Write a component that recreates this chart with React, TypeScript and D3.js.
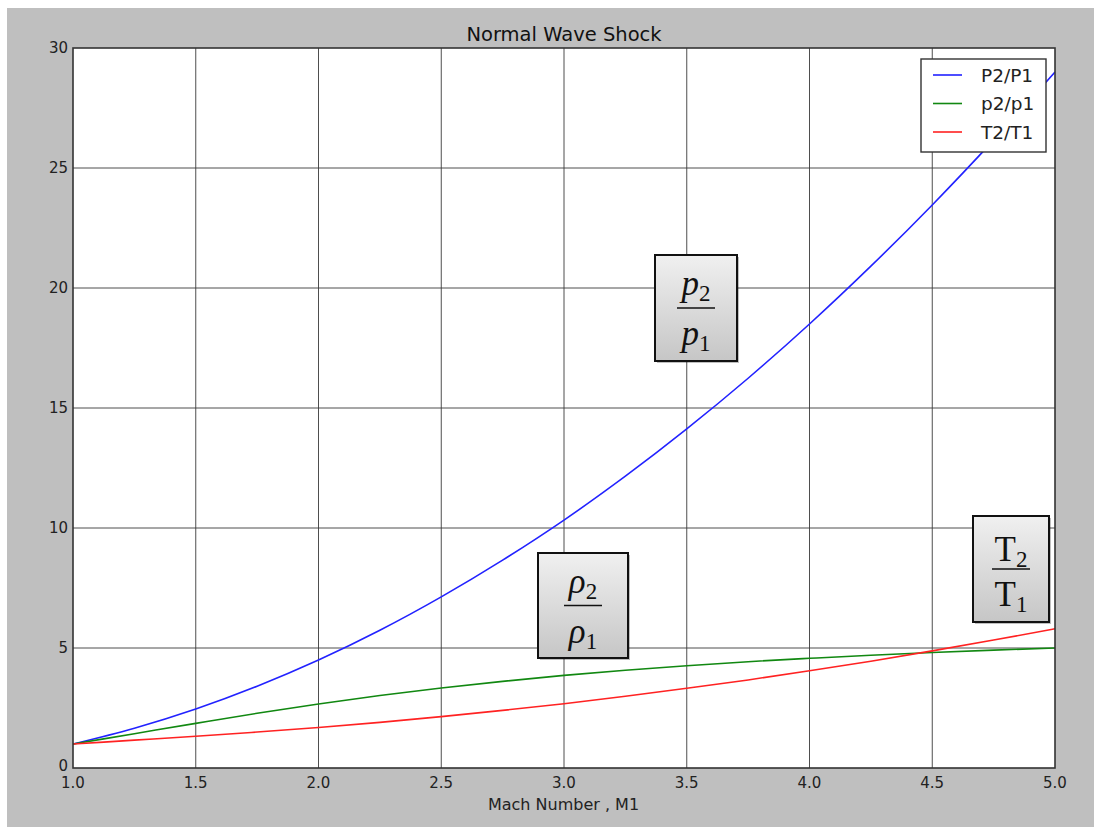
import { useEffect, useRef } from "react";
import * as d3 from "d3";

// Mach numbers read along the x axis
const mach = [1.0, 1.25, 1.5, 1.75, 2.0, 2.25, 2.5, 2.75, 3.0, 3.25, 3.5, 3.75, 4.0, 4.25, 4.5, 4.75, 5.0];

// pressure ratio P2/P1
const pressureRatio = [1.0, 1.66, 2.46, 3.41, 4.5, 5.74, 7.13, 8.66, 10.33, 12.16, 14.13, 16.24, 18.5, 20.91, 23.46, 26.16, 29.0];

// density ratio p2/p1
const densityRatio = [1.0, 1.43, 1.86, 2.28, 2.67, 3.02, 3.33, 3.61, 3.86, 4.07, 4.26, 4.43, 4.57, 4.7, 4.81, 4.91, 5.0];

// temperature ratio T2/T1
const temperatureRatio = [1.0, 1.16, 1.32, 1.5, 1.69, 1.9, 2.14, 2.4, 2.68, 2.99, 3.32, 3.67, 4.05, 4.45, 4.88, 5.33, 5.8];

const seriesNames = ["P2/P1", "p2/p1", "T2/T1"];
const xTicks = [1.0, 1.5, 2.0, 2.5, 3.0, 3.5, 4.0, 4.5, 5.0];
const yTicks = [0, 5, 10, 15, 20, 25, 30];

export default function App() {
  const ref = useRef<SVGSVGElement>(null);

  useEffect(() => {
    const width = 1094,
      height = 827,
      margin = { top: 48, right: 39, bottom: 59, left: 73 };

    const svg = d3.select(ref.current);
    svg.selectAll("*").remove();
    svg.attr("width", width).attr("height", height);

    // figure background
    svg.append("rect").attr("x", 7).attr("y", 8).attr("width", width - 7).attr("height", height - 8).attr("fill", "#bfbfbf");

    const x = d3.scaleLinear().domain([1, 5]).range([margin.left, width - margin.right]);
    const y = d3.scaleLinear().domain([0, 30]).range([height - margin.bottom, margin.top]);

    svg
      .append("rect")
      .attr("x", x(1))
      .attr("y", y(30))
      .attr("width", x(5) - x(1))
      .attr("height", y(0) - y(30))
      .attr("fill", "#fff");

    // grid
    const grid = svg.append("g").attr("stroke", "#3a3a3a").attr("stroke-width", 0.9);
    xTicks.slice(1, -1).forEach((t) => {
      grid.append("line").attr("x1", x(t)).attr("x2", x(t)).attr("y1", y(0)).attr("y2", y(30));
    });
    yTicks.slice(1, -1).forEach((t) => {
      grid.append("line").attr("x1", x(1)).attr("x2", x(5)).attr("y1", y(t)).attr("y2", y(t));
    });

    // curves
    const colors = ["#2222ff", "#118811", "#ff2222"];
    const seriesData = [pressureRatio, densityRatio, temperatureRatio];
    const line = d3
      .line<number>()
      .x((_, i) => x(mach[i]))
      .y((d) => y(d))
      .curve(d3.curveMonotoneX);

    const clip = svg.append("defs").append("clipPath").attr("id", "plotClip");
    clip.append("rect").attr("x", x(1)).attr("y", y(30)).attr("width", x(5) - x(1)).attr("height", y(0) - y(30));

    seriesData.forEach((vals, i) => {
      svg
        .append("path")
        .datum(vals)
        .attr("clip-path", "url(#plotClip)")
        .attr("fill", "none")
        .attr("stroke", colors[i])
        .attr("stroke-width", 1.6)
        .attr("d", line);
    });

    // frame
    svg
      .append("rect")
      .attr("x", x(1))
      .attr("y", y(30))
      .attr("width", x(5) - x(1))
      .attr("height", y(0) - y(30))
      .attr("fill", "none")
      .attr("stroke", "#333")
      .attr("stroke-width", 1.6);

    const font = "DejaVu Sans, sans-serif";

    // tick labels
    xTicks.forEach((t) => {
      svg
        .append("text")
        .attr("x", x(t))
        .attr("y", y(0) + 20)
        .attr("text-anchor", "middle")
        .style("font-family", font)
        .style("font-size", "15px")
        .style("fill", "#222")
        .text(d3.format(".1f")(t));
    });
    yTicks.forEach((t) => {
      svg
        .append("text")
        .attr("x", x(1) - 5)
        .attr("y", y(t) + (t === 0 ? 3 : 5))
        .attr("text-anchor", "end")
        .style("font-family", font)
        .style("font-size", "15px")
        .style("fill", "#222")
        .text(t);
    });

    svg
      .append("text")
      .attr("x", (x(1) + x(5)) / 2 - 0.5)
      .attr("y", 810)
      .attr("text-anchor", "middle")
      .style("font-family", font)
      .style("font-size", "16px")
      .style("fill", "#222")
      .text("Mach Number , M1");

    svg
      .append("text")
      .attr("x", (x(1) + x(5)) / 2)
      .attr("y", 41)
      .attr("text-anchor", "middle")
      .style("font-family", font)
      .style("font-size", "19.5px")
      .style("fill", "#111")
      .text("Normal Wave Shock");

    // legend
    const legend = svg.append("g").attr("transform", "translate(921,59)");
    legend.append("rect").attr("width", 125).attr("height", 93).attr("fill", "#fff").attr("stroke", "#333").attr("stroke-width", 1.4);
    seriesNames.forEach((name, i) => {
      const ly = 16 + i * 28.5;
      legend.append("line").attr("x1", 12).attr("x2", 41).attr("y1", ly).attr("y2", ly).attr("stroke", colors[i]).attr("stroke-width", 1.6);
      legend
        .append("text")
        .attr("x", 60)
        .attr("y", ly + 6.5)
        .style("font-family", font)
        .style("font-size", "18.5px")
        .style("fill", "#222")
        .text(name);
    });

    // annotation boxes
    const defs = svg.select("defs");
    const grad = defs.append("linearGradient").attr("id", "boxGrad").attr("x1", 0).attr("y1", 0).attr("x2", 0).attr("y2", 1);
    grad.append("stop").attr("offset", "0%").attr("stop-color", "#f0f0f0");
    grad.append("stop").attr("offset", "100%").attr("stop-color", "#c6c6c6");

    const serif = "Liberation Serif, Times New Roman, serif";
    const boxes = [
      { x0: 655, y0: 255, w: 82, h: 106, sym: "p", italic: true },
      { x0: 538, y0: 553, w: 90, h: 105, sym: "\u03C1", italic: true },
      { x0: 973, y0: 516, w: 76, h: 106, sym: "T", italic: false },
    ];
    boxes.forEach((b) => {
      const g = svg.append("g").attr("transform", `translate(${b.x0},${b.y0})`);
      g.append("rect").attr("x", 2).attr("y", 2).attr("width", b.w).attr("height", b.h).attr("fill", "rgba(0,0,0,0.25)");
      g.append("rect").attr("width", b.w).attr("height", b.h).attr("fill", "url(#boxGrad)").attr("stroke", "#111").attr("stroke-width", 2);
      const cx = b.w / 2;
      const lineY = b.h / 2;
      g.append("line").attr("x1", cx - 19).attr("x2", cx + 19).attr("y1", lineY).attr("y2", lineY).attr("stroke", "#111").attr("stroke-width", 1.5);
      const rows: [string, number][] = [
        ["2", b.italic ? lineY - 13 : lineY - 8],
        ["1", lineY + 37],
      ];
      rows.forEach(([sub, by]) => {
        const t = g
          .append("text")
          .attr("x", cx)
          .attr("y", by)
          .attr("text-anchor", "middle")
          .style("font-family", serif)
          .style("font-size", "35px")
          .style("fill", "#111");
        t.append("tspan").style("font-style", b.italic ? "italic" : "normal").text(b.sym);
        t.append("tspan").attr("dy", 6).style("font-size", "23px").text(sub);
      });
    });
  }, []);

  return <svg ref={ref} style={{ position: "absolute", left: 0, top: 0 }} />;
}
